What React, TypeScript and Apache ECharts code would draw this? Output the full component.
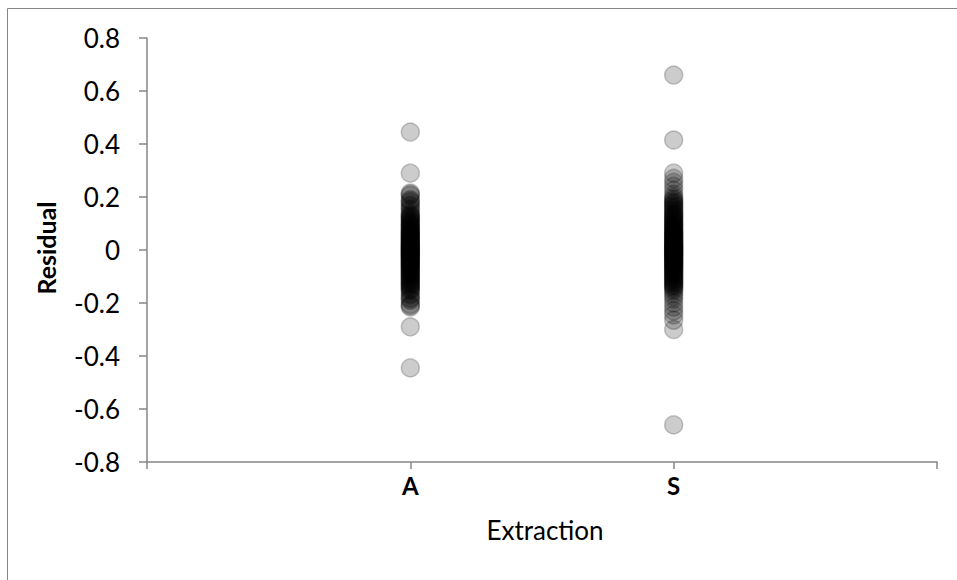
import React, { useEffect, useRef } from "react";
import * as echarts from "echarts";

const categories = ["A", "S"];
const yTicks = [-0.8, -0.6, -0.4, -0.2, 0, 0.2, 0.4, 0.6, 0.8];
const residualsA = [
  0.445, 0.29, 0.215, 0.21, 0.205, 0.19, 0.185, 0.18, 0.17, 0.165, 0.155, 0.15, 0.14,
  0.133, 0.13, 0.126, 0.122, 0.118, 0.114, 0.11, 0.106, 0.102, 0.098, 0.095, 0.091, 0.088,
  0.084, 0.08, 0.076, 0.073, 0.07, 0.066, 0.063, 0.06, 0.057, 0.054, 0.051, 0.048, 0.045,
  0.042, 0.039, 0.036, 0.033, 0.03, 0.027, 0.025, 0.022, 0.02, 0.017, 0.015, 0.012, 0.01,
  0.007, 0.005, 0.002, 0,
  -0.002, -0.005, -0.007, -0.01, -0.012, -0.015, -0.017, -0.02, -0.022, -0.025, -0.027,
  -0.03, -0.033, -0.036, -0.039, -0.042, -0.045, -0.048, -0.051, -0.054, -0.057, -0.06,
  -0.063, -0.066, -0.07, -0.073, -0.076, -0.08, -0.084, -0.088, -0.091, -0.095, -0.098,
  -0.102, -0.106, -0.11, -0.114, -0.118, -0.122, -0.126, -0.13, -0.133, -0.138, -0.142,
  -0.146, -0.15, -0.155, -0.165, -0.17, -0.18, -0.185, -0.19, -0.205, -0.21, -0.215,
  -0.29, -0.445,
];
const residualsS = [
  0.66, 0.415, 0.29, 0.27, 0.255, 0.24, 0.225, 0.21, 0.2,
  0.193, 0.188, 0.182, 0.178, 0.173, 0.168, 0.163, 0.158, 0.153, 0.148, 0.143, 0.138,
  0.134, 0.13, 0.126, 0.122, 0.118, 0.114, 0.11, 0.106, 0.102, 0.098, 0.095, 0.091, 0.088,
  0.084, 0.08, 0.076, 0.073, 0.07, 0.066, 0.063, 0.06, 0.057, 0.054, 0.051, 0.048, 0.045,
  0.042, 0.039, 0.036, 0.033, 0.03, 0.027, 0.025, 0.022, 0.02, 0.017, 0.015, 0.012, 0.01,
  0.007, 0.005, 0.002, 0,
  -0.002, -0.005, -0.007, -0.01, -0.012, -0.015, -0.017, -0.02, -0.022, -0.025, -0.027,
  -0.03, -0.033, -0.036, -0.039, -0.042, -0.045, -0.048, -0.051, -0.054, -0.057, -0.06,
  -0.063, -0.066, -0.07, -0.073, -0.076, -0.08, -0.084, -0.088, -0.091, -0.095, -0.098,
  -0.102, -0.106, -0.11, -0.114, -0.118, -0.122, -0.126, -0.13, -0.134, -0.138, -0.143,
  -0.148, -0.155, -0.165, -0.175, -0.185, -0.2, -0.215, -0.23, -0.245, -0.265, -0.3, -0.66,
];
const xTitle = "Extraction";
const yTitle = "Residual";

const FONT = "Lato, 'Open Sans', sans-serif";

export default function App() {
  const ref = useRef<HTMLDivElement>(null);
  useEffect(() => {
    if (!ref.current) return;
    const chart = echarts.init(ref.current, undefined, { renderer: "svg" });
    const groups = [residualsA, residualsS];
    const data: number[][] = [];
    groups.forEach((g, i) => g.forEach((v) => data.push([i + 1, v])));
    chart.setOption({
      animation: false,
      backgroundColor: "#ffffff",
      grid: { left: 147, top: 38, right: 20, bottom: 118, containLabel: false },
      xAxis: {
        type: "value",
        min: 0,
        max: 3,
        interval: 1,
        splitLine: { show: false },
        axisLine: { show: true, onZero: false, lineStyle: { color: "#868686", width: 1.5 } },
        axisTick: { show: true, inside: false, length: 7, lineStyle: { color: "#868686", width: 1.5 } },
        axisLabel: {
          margin: 11,
          fontFamily: FONT,
          fontSize: 24,
          fontWeight: "bold",
          color: "#000",
          formatter: (v: number) => (v >= 1 && v <= categories.length ? categories[v - 1] : ""),
        },
      },
      yAxis: {
        type: "value",
        min: -0.8,
        max: 0.8,
        interval: 0.2,
        splitLine: { show: false },
        axisLine: { show: true, lineStyle: { color: "#868686", width: 1.5 } },
        axisTick: { show: true, length: 8, lineStyle: { color: "#868686", width: 1.5 } },
        axisLabel: {
          margin: 27,
          fontFamily: FONT,
          fontSize: 26,
          color: "#000",
          formatter: (v: number) => {
            const r = Math.round(v * 10) / 10;
            const t = yTicks.find((x) => Math.abs(x - r) < 1e-9);
            return t === undefined ? "" : String(t);
          },
        },
      },
      graphic: [
        {
          type: "rect",
          shape: { x: 7.5, y: 8.5, width: 1200, height: 1200 },
          style: { fill: "none", stroke: "#868686", lineWidth: 1 },
          silent: true,
        },
        {
          type: "text",
          x: 545,
          y: 530,
          style: {
            text: xTitle,
            font: `26px ${FONT}`,
            fill: "#000",
            align: "center",
            verticalAlign: "middle",
          },
        },
        {
          type: "text",
          x: 46,
          y: 248,
          rotation: Math.PI / 2,
          style: {
            text: yTitle,
            font: `bold 25px ${FONT}`,
            fill: "#000",
            align: "center",
            verticalAlign: "middle",
          },
        },
      ],
      series: [
        {
          type: "scatter",
          data,
          symbol: "circle",
          symbolSize: 18,
          itemStyle: {
            color: "rgba(0,0,0,0.25)",
            borderColor: "rgba(0,0,0,0.25)",
            borderWidth: 1.5,
          },
        },
      ],
    });
    return () => chart.dispose();
  }, []);
  return (
    <div
      ref={ref}
      style={{ position: "fixed", left: 0, top: 0, width: 957, height: 580 }}
    />
  );
}
